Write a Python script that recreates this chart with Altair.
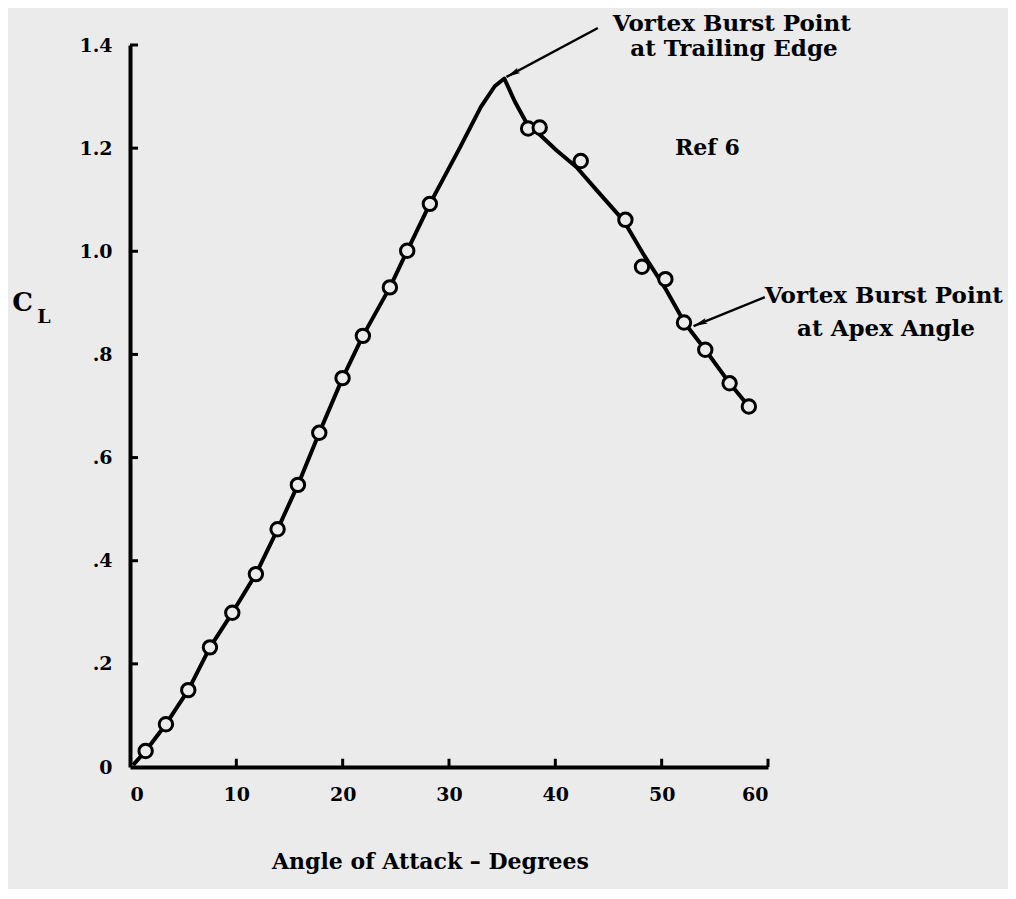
import math
import altair as alt
import pandas as pd

# ---- data ----
alpha = [1.47, 3.38, 5.48, 7.52, 9.62, 11.84, 13.88, 15.79, 17.8, 19.99, 21.9, 24.44,
         26.07, 28.2, 37.44, 38.53, 42.39, 46.59, 48.15, 50.35, 52.1, 54.1, 56.39, 58.2]
cl = [0.031, 0.083, 0.149, 0.232, 0.299, 0.374, 0.461, 0.547, 0.648, 0.754, 0.836, 0.930,
      1.001, 1.092, 1.238, 1.240, 1.175, 1.061, 0.970, 0.946, 0.862, 0.809, 0.744, 0.699]

curve_alpha = [0.3, 1.47, 3.38, 5.48, 7.52, 9.62, 11.84, 13.88, 15.79, 17.8, 19.99, 21.9,
               24.44, 26.07, 28.2, 31.0, 33.0, 34.3, 35.2, 36.2, 37.4, 38.6, 40.1, 42.0,
               43.9, 46.4, 48.2, 50.4, 52.2, 54.1, 56.4, 58.2]
curve_cl = [0.004, 0.031, 0.083, 0.149, 0.232, 0.299, 0.374, 0.461, 0.547, 0.648, 0.754,
            0.836, 0.930, 1.001, 1.092, 1.200, 1.280, 1.320, 1.335, 1.290, 1.245, 1.225,
            1.196, 1.163, 1.118, 1.060, 0.997, 0.926, 0.860, 0.809, 0.744, 0.699]

x_ticks = [0, 10, 20, 30, 40, 50, 60]
y_ticks = [0, 0.2, 0.4, 0.6, 0.8, 1.0, 1.2, 1.4]

ann_text = ["Vortex Burst Point", "at Trailing Edge", "Vortex Burst Point",
            "at Apex Angle", "Ref 6", "C", "L"]
ann_x = [56.6, 56.8, 70.9, 71.1, 54.3, -10.1, -8.1]
ann_y = [1.440, 1.392, 0.913, 0.849, 1.200, 0.900, 0.873]
ann_size = [23, 23, 23, 23, 22, 26, 19]

arrow_x0 = [44.0, 59.7]
arrow_y0 = [1.433, 0.911]
arrow_x1 = [35.4, 53.0]
arrow_y1 = [1.338, 0.855]

# ---- layout ----
W, H = 638, 722
BG = "#ebebeb"
FONT = "DejaVu Serif"

xs = alt.Scale(domain=[0, 60], nice=False, zero=False)
ys = alt.Scale(domain=[0, 1.4], nice=False, zero=False)
xaxis = alt.Axis(values=x_ticks, format="d", title="Angle of Attack – Degrees",
                 titleX=300, titleY=94, titleAlign="center", titleBaseline="middle")
yaxis = alt.Axis(values=y_ticks, title=None,
                 labelExpr="datum.value == 0 ? '0' : datum.value < 0.99 ? "
                           "replace(format(datum.value, '.1f'), '0.', '.') : format(datum.value, '.1f')")


def X(f):
    return alt.X(f, scale=xs, axis=xaxis, title="Angle of Attack – Degrees")


def Y(f):
    return alt.Y(f, scale=ys, axis=yaxis, title=None)


pts = pd.DataFrame({"alpha": alpha, "cl": cl})
curve = pd.DataFrame({"alpha": curve_alpha, "cl": curve_cl})

angles = []
for a0, b0, a1, b1 in zip(arrow_x0, arrow_y0, arrow_x1, arrow_y1):
    dx = (a1 - a0) * W / 60.0
    dy = -(b1 - b0) * H / 1.4
    angles.append(math.degrees(math.atan2(dx, -dy)) % 360)
arrows = pd.DataFrame({"x0": arrow_x0, "y0": arrow_y0, "x1": arrow_x1, "y1": arrow_y1,
                       "ang": angles})
ann = pd.DataFrame({"t": ann_text, "x": ann_x, "y": ann_y, "fs": ann_size})
xt = pd.DataFrame({"v": x_ticks[1:], "a": [0] * (len(x_ticks) - 1),
                   "b": [0.016] * (len(x_ticks) - 1)})
yt = pd.DataFrame({"v": y_ticks[1:], "a": [0] * (len(y_ticks) - 1),
                   "b": [0.75] * (len(y_ticks) - 1)})

line = alt.Chart(curve).mark_line(color="black", strokeWidth=4, strokeJoin="round").encode(
    x=X("alpha:Q"), y=Y("cl:Q"), order=alt.Order("alpha:Q"),
)

points = alt.Chart(pts).mark_point(shape="circle", filled=False, fill=BG, fillOpacity=1,
                                   stroke="black", strokeWidth=3, size=180, opacity=1).encode(
    x=X("alpha:Q"), y=Y("cl:Q"),
)

xtick = alt.Chart(xt).mark_rule(color="black", strokeWidth=3).encode(
    x=X("v:Q"), y=Y("a:Q"), y2="b:Q",
)
ytick = alt.Chart(yt).mark_rule(color="black", strokeWidth=3).encode(
    y=Y("v:Q"), x=X("a:Q"), x2="b:Q",
)

arrow_lines = alt.Chart(arrows).mark_rule(color="black", strokeWidth=2.5).encode(
    x=X("x0:Q"), y=Y("y0:Q"), x2="x1:Q", y2="y1:Q",
)
arrow_heads = alt.Chart(arrows).mark_point(
    shape="M0,0L0.42,2L0,1.6L-0.42,2Z", filled=True, color="black", size=200, opacity=1
).encode(
    x=X("x1:Q"), y=Y("y1:Q"), angle=alt.Angle("ang:Q", scale=None),
)

texts = alt.Chart(ann).mark_text(font=FONT, fontWeight="bold", color="black",
                                 align="center", baseline="middle").encode(
    x=X("x:Q"), y=Y("y:Q"), text="t:N",
    size=alt.Size("fs:Q", scale=None, legend=None),
)

chart = alt.layer(line, points, xtick, ytick, arrow_lines, arrow_heads, texts).properties(
    width=W, height=H,
    autosize=alt.AutoSizeParams(type="none"),
    padding={"left": 122, "top": 37, "right": 240, "bottom": 122},
).configure(background=BG).configure_view(stroke=None).configure_axis(
    grid=False, ticks=False, domain=True, domainColor="black", domainWidth=4,
    labelFont=FONT, labelFontWeight="bold", labelFontSize=19, labelColor="black",
    titleFont=FONT, titleFontWeight="bold", titleFontSize=22, titleColor="black",
).configure_axisX(labelPadding=18).configure_axisY(labelPadding=18)

chart.save("out.html", embed_options={"renderer": "svg", "actions": False})
